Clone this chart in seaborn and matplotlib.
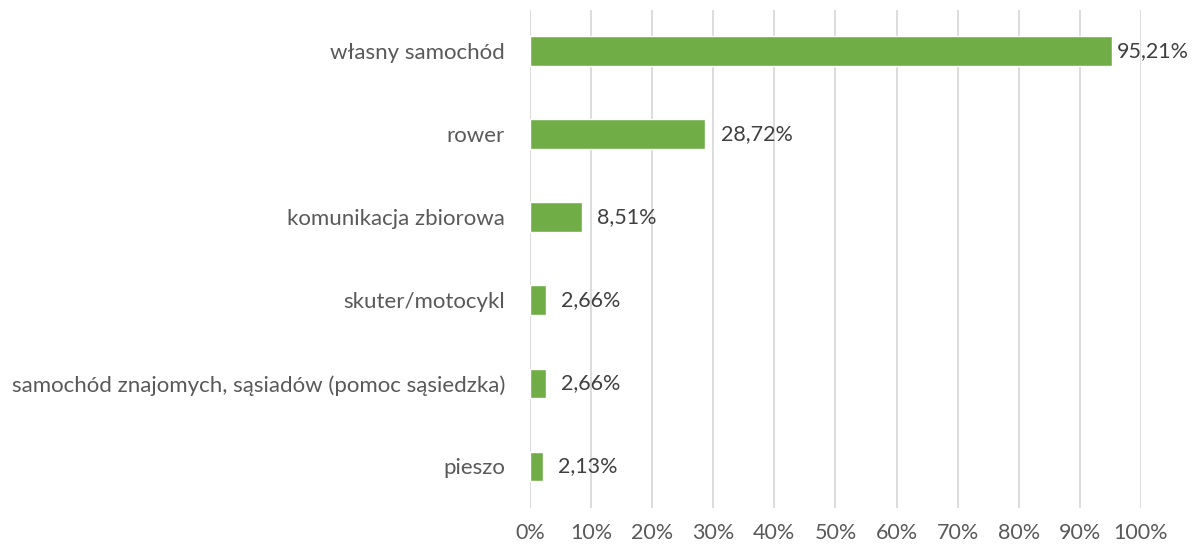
import matplotlib.pyplot as plt
import pandas as pd
import seaborn as sns

# Data
categories = ['własny samochód', 'rower', 'komunikacja zbiorowa', 'skuter/motocykl',
              'samochód znajomych, sąsiadów (pomoc sąsiedzka)', 'pieszo']
values = [95.21, 28.72, 8.51, 2.66, 2.66, 2.13]
x_ticks = list(range(0, 101, 10))

df = pd.DataFrame({'category': categories, 'value': values})

sns.set_style('white')
plt.rcParams['font.family'] = ['Lato', 'DejaVu Sans']

fig = plt.figure(figsize=(11.92, 5.46), dpi=100)
ax = fig.add_axes([0.4446, 0.0696, 0.5125, 0.9124])

sns.barplot(data=df, x='value', y='category', orient='h', color='#70AD47',
            saturation=1, width=0.36, ax=ax, zorder=3)

# labels next to the bars (pulled in when close to the right edge, like Excel does)
for i, v in enumerate(values):
    off = 4 if v > 90 else 11
    ax.annotate(f'{v:.2f}%'.replace('.', ','), xy=(v, i), xytext=(off, 0),
                textcoords='offset points', va='center', ha='left',
                fontsize=15.5, color='#404040')

ax.set_xlim(0, 100)
ax.set_xticks(x_ticks)
ax.set_xticklabels([f'{t}%' for t in x_ticks])
ax.xaxis.grid(True, color='#D9D9D9', linewidth=1.3, zorder=0)
ax.set_axisbelow(True)
for s in ax.spines.values():
    s.set_visible(False)
ax.tick_params(axis='both', length=0, labelsize=15.5, labelcolor='#595959')
ax.tick_params(axis='y', labelsize=16)
ax.tick_params(axis='x', pad=11)
ax.tick_params(axis='y', pad=18)
ax.set_xlabel('')
ax.set_ylabel('')

fig.savefig('out.png', dpi=100)
